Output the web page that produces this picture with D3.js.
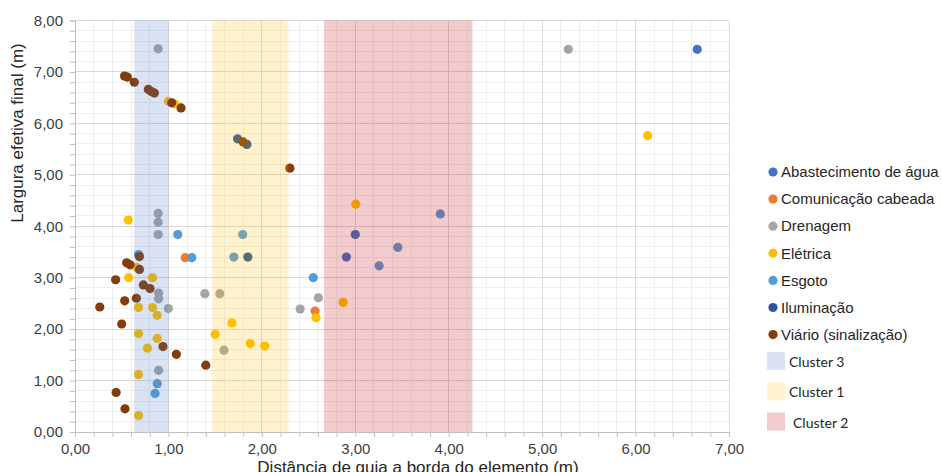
<!DOCTYPE html>
<html>
<head>
<meta charset="utf-8">
<script src="https://cdn.jsdelivr.net/npm/d3@7"></script>
<style>
  body { margin: 0; background: #fff; }
  svg { display: block; }
</style>
</head>
<body>
<div id="chart"></div>
<script>
// chart size and plot box
var WD = 942, HT = 472
var plot = { left: 75, right: 729, top: 20.5, bottom: 432 }

// data: [distance, width]
var seriesNames = ["Abastecimento de água", "Comunicação cabeada", "Drenagem", "Elétrica", "Esgoto", "Iluminação", "Viário (sinalização)"]
var seriesColors = ["#4472C4", "#ED7D31", "#A5A5A5", "#FFC000", "#5B9BD5", "#2F5597", "#843C0C"]

var abastecimento = [[6.66, 7.44], [3.00, 3.84], [2.905, 3.40]]
var comunicacao = [[1.18, 3.39], [2.57, 2.35]]
var drenagem = [[0.89, 7.45], [5.28, 7.44], [0.89, 4.25], [0.89, 4.08], [0.89, 3.84], [0.895, 2.70], [0.895, 2.59],
  [1.39, 2.69], [1.55, 2.69], [1.00, 2.40], [2.41, 2.39], [2.605, 2.61], [1.595, 1.59], [0.895, 1.20]]
var eletrica = [[1.00, 6.43], [1.065, 6.38], [6.13, 5.76], [0.57, 4.12], [0.575, 3.00], [0.83, 3.00], [0.66, 3.20],
  [0.68, 2.42], [0.83, 2.42], [0.88, 2.27], [1.68, 2.12], [1.50, 1.90], [0.68, 1.91], [0.88, 1.82], [1.875, 1.72],
  [2.03, 1.67], [0.775, 1.63], [0.68, 1.12], [0.68, 0.32], [3.005, 4.43], [2.87, 2.52], [2.58, 2.22]]
var esgoto = [[1.10, 3.84], [1.795, 3.84], [1.25, 3.39], [1.70, 3.40], [0.68, 3.45], [2.55, 3.00], [0.88, 0.94],
  [0.857, 0.75], [3.91, 4.24], [3.455, 3.59], [3.255, 3.23]]
var iluminacao = [[1.74, 5.70], [1.84, 5.59], [1.85, 3.40]]
var viario = [[0.53, 6.92], [0.56, 6.90], [0.635, 6.80], [0.785, 6.66], [0.817, 6.62], [0.85, 6.59], [1.035, 6.40],
  [1.135, 6.30], [1.80, 5.64], [2.30, 5.13], [0.69, 3.41], [0.553, 3.29], [0.589, 3.25], [0.69, 3.16], [0.435, 2.96],
  [0.732, 2.86], [0.803, 2.79], [0.532, 2.55], [0.657, 2.60], [0.265, 2.43], [0.50, 2.10], [0.942, 1.66],
  [1.085, 1.51], [1.40, 1.30], [0.44, 0.77], [0.535, 0.45]]

var seriesData = [abastecimento, comunicacao, drenagem, eletrica, esgoto, iluminacao, viario]

// cluster bands (x ranges)
var clusterNames = ["Cluster 3", "Cluster 1", "Cluster 2"]
var clusterStart = [0.635, 1.467, 2.666]
var clusterEnd = [1.00, 2.284, 4.254]
var clusterColors = ["#4472C4", "#FFC000", "#C00000"]

// ticks
var xTicks = [0, 1, 2, 3, 4, 5, 6, 7]
var yTicks = [0, 1, 2, 3, 4, 5, 6, 7, 8]

var locale = d3.formatLocale({ decimal: ",", thousands: ".", grouping: [3], currency: ["R$", ""] })
var fmt = locale.format(".2f")

var x = d3.scaleLinear().domain([0, 7]).range([plot.left, plot.right])
var y = d3.scaleLinear().domain([0, 8]).range([plot.bottom, plot.top])

var svg = d3.select("#chart").append("svg")
  .attr("width", WD)
  .attr("height", HT)
  .style("font-family", "'Liberation Sans', Arial, sans-serif")

// minor grid
var xMinor = d3.range(0, 7.001, 0.2)
var yMinor = d3.range(0, 8.001, 0.2)
svg.append("g").selectAll("line").data(xMinor).enter().append("line")
  .attr("x1", d => x(d)).attr("x2", d => x(d))
  .attr("y1", plot.top).attr("y2", plot.bottom)
  .attr("stroke", "#efefef").attr("stroke-width", 1).attr("shape-rendering", "crispEdges")
svg.append("g").selectAll("line").data(yMinor).enter().append("line")
  .attr("x1", plot.left).attr("x2", plot.right)
  .attr("y1", d => y(d)).attr("y2", d => y(d))
  .attr("stroke", "#efefef").attr("stroke-width", 1).attr("shape-rendering", "crispEdges")

// major grid
svg.append("g").selectAll("line").data(xTicks).enter().append("line")
  .attr("x1", d => x(d)).attr("x2", d => x(d))
  .attr("y1", plot.top).attr("y2", plot.bottom)
  .attr("stroke", "#d9d9d9").attr("stroke-width", 1).attr("shape-rendering", "crispEdges")
svg.append("g").selectAll("line").data(yTicks).enter().append("line")
  .attr("x1", plot.left).attr("x2", plot.right)
  .attr("y1", d => y(d)).attr("y2", d => y(d))
  .attr("stroke", "#d9d9d9").attr("stroke-width", 1).attr("shape-rendering", "crispEdges")

// axes (minor tick marks, labels only on the whole numbers)
var xAxis = d3.axisBottom(x).tickValues(xMinor).tickSize(5).tickPadding(6)
  .tickFormat(d => xTicks.some(t => Math.abs(t - d) < 1e-6) ? fmt(d) : "")
var yAxis = d3.axisLeft(y).tickValues(yMinor).tickSize(5).tickPadding(7)
  .tickFormat(d => yTicks.some(t => Math.abs(t - d) < 1e-6) ? fmt(d) : "")

var gx = svg.append("g").attr("transform", "translate(0," + plot.bottom + ")").call(xAxis)
var gy = svg.append("g").attr("transform", "translate(" + plot.left + ",0)").call(yAxis)
;[gx, gy].forEach(function (g) {
  g.select(".domain").attr("stroke", "#bfbfbf")
  g.selectAll(".tick line").attr("stroke", "#bfbfbf")
  g.selectAll(".tick text").attr("fill", "#404040").style("font-size", "15px")
    .style("font-family", "'Liberation Sans', Arial, sans-serif")
})

// points
seriesData.forEach(function (pts, i) {
  svg.append("g").selectAll("circle").data(pts).enter().append("circle")
    .attr("cx", d => x(d[0]))
    .attr("cy", d => y(d[1]))
    .attr("r", 4.6)
    .attr("fill", seriesColors[i])
})

// cluster bands, drawn over the points
svg.append("g").selectAll("rect").data(clusterNames).enter().append("rect")
  .attr("x", (d, i) => x(clusterStart[i]))
  .attr("width", (d, i) => x(clusterEnd[i]) - x(clusterStart[i]))
  .attr("y", y(8))
  .attr("height", y(0) - y(8))
  .attr("fill", (d, i) => clusterColors[i])
  .attr("fill-opacity", 0.2)

// axis titles
svg.append("text")
  .attr("x", 418).attr("y", 473)
  .attr("text-anchor", "middle")
  .style("font-size", "17px").attr("fill", "#262626")
  .text("Distância de guia a borda do elemento (m)")

svg.append("text")
  .attr("transform", "translate(23,133) rotate(-90)")
  .attr("text-anchor", "middle")
  .style("font-size", "17px").attr("fill", "#262626")
  .text("Largura efetiva final (m)")

// legend
var leg = svg.append("g")
leg.selectAll("circle").data(seriesNames).enter().append("circle")
  .attr("cx", 773).attr("cy", (d, i) => 172 + i * 27.1)
  .attr("r", 4.6).attr("fill", (d, i) => seriesColors[i])
leg.selectAll("text.s").data(seriesNames).enter().append("text")
  .attr("class", "s")
  .attr("x", 781).attr("y", (d, i) => 172 + i * 27.1)
  .attr("dy", "0.35em")
  .style("font-size", "15px").attr("fill", "#262626")
  .text(d => d)

leg.selectAll("rect").data(clusterNames).enter().append("rect")
  .attr("x", 767).attr("y", (d, i) => 352 + i * 30.3)
  .attr("width", 18).attr("height", 18)
  .attr("fill", (d, i) => clusterColors[i]).attr("fill-opacity", 0.2)
leg.selectAll("text.c").data(clusterNames).enter().append("text")
  .attr("class", "c")
  .attr("x", (d, i) => i == 2 ? 793 : 789).attr("y", (d, i) => 362 + i * 30.3)
  .attr("dy", "0.35em")
  .style("font-family", "Lato, 'Open Sans', sans-serif")
  .style("font-size", "14px").attr("fill", "#262626")
  .text(d => d)
</script>
</body>
</html>
